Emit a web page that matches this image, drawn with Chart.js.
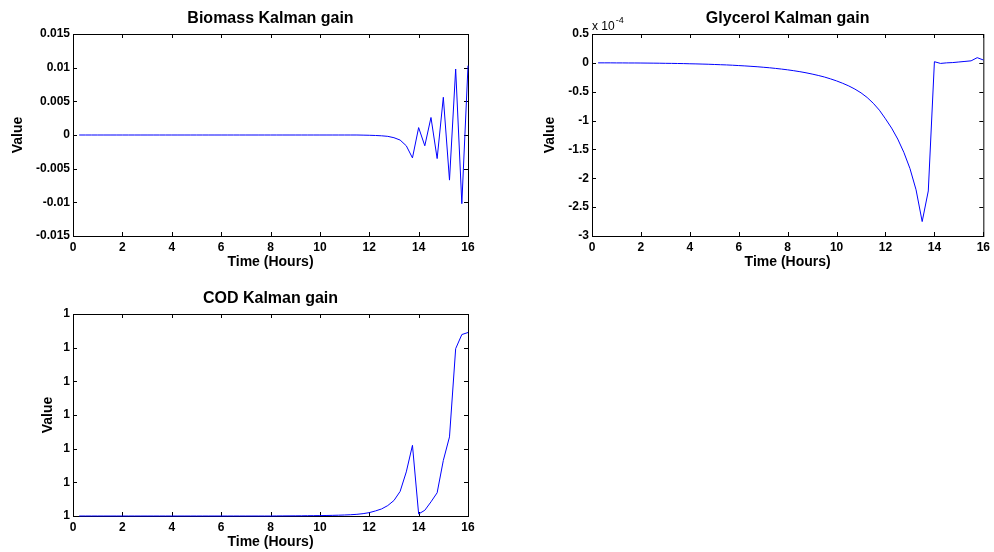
<!DOCTYPE html>
<html>
<head>
<meta charset="utf-8">
<script src="https://cdn.jsdelivr.net/npm/chart.js@4.4.1/dist/chart.umd.min.js"></script>
<style>
  html, body { margin: 0; padding: 0; background: #fff; }
  body { width: 994px; height: 552px; position: relative; overflow: hidden; }
  canvas { position: absolute; }
</style>
</head>
<body>
<canvas id="biomass" width="497" height="276" style="left:0;top:0"></canvas>
<canvas id="glycerol" width="462" height="276" style="left:532px;top:0"></canvas>
<canvas id="cod" width="497" height="276" style="left:0;top:280px"></canvas>
<script>
// time axis (hours), one sample every 15 minutes
const hours = [
  0.25, 0.5, 0.75, 1, 1.25, 1.5, 1.75, 2,
  2.25, 2.5, 2.75, 3, 3.25, 3.5, 3.75, 4,
  4.25, 4.5, 4.75, 5, 5.25, 5.5, 5.75, 6,
  6.25, 6.5, 6.75, 7, 7.25, 7.5, 7.75, 8,
  8.25, 8.5, 8.75, 9, 9.25, 9.5, 9.75, 10,
  10.25, 10.5, 10.75, 11, 11.25, 11.5, 11.75, 12,
  12.25, 12.5, 12.75, 13, 13.25, 13.5, 13.75, 14,
  14.25, 14.5, 14.75, 15, 15.25, 15.5, 15.75, 16
];
const hourTicks = [0, 2, 4, 6, 8, 10, 12, 14, 16];

const biomassGain = [
  0, 0, 0, 0, 0, 0, 0, 0,
  0, 0, 0, 0, 0, 0, 0, 0,
  0, 0, 0, 0, 0, 0, 0, 0,
  0, 0, 0, 0, 0, 0, 0, 0,
  0, 0, 0, 0, 0, 0, 0, 0,
  0, 0, 0, 0, 0, 0, -0.00002, -0.00004,
  -0.00007, -0.00012, -0.0002, -0.0004, -0.00075, -0.0016, -0.0034, 0.0011,
  -0.0016, 0.0026, -0.0035, 0.0056, -0.0067, 0.0098, -0.0102, 0.0103
];
const biomassTicks = [-0.015, -0.01, -0.005, 0, 0.005, 0.01, 0.015];
const biomassTickLabels = ['-0.015', '-0.01', '-0.005', '0', '0.005', '0.01', '0.015'];

// glycerol gain in units of 1e-4
const glycerolGainE4 = [
  0, 0, 0, -0.001, -0.001, -0.002, -0.002, -0.003,
  -0.004, -0.005, -0.006, -0.008, -0.009, -0.011, -0.013, -0.016,
  -0.018, -0.021, -0.024, -0.028, -0.032, -0.036, -0.041, -0.047,
  -0.053, -0.06, -0.067, -0.076, -0.085, -0.096, -0.108, -0.121,
  -0.136, -0.153, -0.172, -0.194, -0.218, -0.245, -0.277, -0.313,
  -0.354, -0.4, -0.455, -0.52, -0.6, -0.7, -0.82, -0.97,
  -1.13, -1.32, -1.55, -1.83, -2.2, -2.75, -2.22, 0.02,
  -0.01, 0, 0.005, 0.015, 0.025, 0.035, 0.09, 0.05
];
const glycerolTicks = [-3, -2.5, -2, -1.5, -1, -0.5, 0, 0.5];
const glycerolTickLabels = ['-3', '-2.5', '-2', '-1.5', '-1', '-0.5', '0', '0.5'];

// COD gain, relative position on an axis whose labels all round to 1
const codGain = [
  0, 0, 0, 0, 0, 0, 0, 0,
  0, 0, 0, 0, 0, 0, 0, 0,
  0, 0, 0, 0, 0, 0, 0, 0,
  0, 0, 0, 0, 0, 0, 0, 0,
  0.002, 0.003, 0.004, 0.005, 0.006, 0.008, 0.01, 0.012,
  0.015, 0.019, 0.024, 0.03, 0.038, 0.05, 0.07, 0.1,
  0.15, 0.21, 0.31, 0.46, 0.73, 1.31, 2.1, 0.06,
  0.17, 0.42, 0.69, 1.65, 2.35, 4.97, 5.39, 5.45
];
const codTicks = [0, 1, 2, 3, 4, 5, 6];
const codTickLabels = ['1', '1', '1', '1', '1', '1', '1'];

const FONT = "'Liberation Sans', Arial, sans-serif";

// matlab style box with inward ticks on all four sides
const matlabBox = {
  id: 'matlabBox',
  beforeDatasetsDraw(chart) {
    const { ctx, chartArea: a, scales: { x, y } } = chart;
    ctx.save();
    ctx.strokeStyle = '#000';
    ctx.lineWidth = 1;
    ctx.beginPath();
    x.ticks.forEach(t => {
      const px = Math.round(x.getPixelForValue(t.value)) + 0.5;
      ctx.moveTo(px, a.bottom); ctx.lineTo(px, a.bottom - 4);
      ctx.moveTo(px, a.top); ctx.lineTo(px, a.top + 4);
    });
    y.ticks.forEach(t => {
      const py = Math.round(y.getPixelForValue(t.value)) + 0.5;
      ctx.moveTo(a.left, py); ctx.lineTo(a.left + 4, py);
      ctx.moveTo(a.right, py); ctx.lineTo(a.right - 4, py);
    });
    ctx.stroke();
    ctx.strokeRect(a.left + 0.5, a.top + 0.5, a.right - a.left, a.bottom - a.top);
    ctx.restore();
  }
};

const exponentLabel = {
  id: 'exponentLabel',
  afterDraw(chart) {
    const { ctx, chartArea: a } = chart;
    ctx.save();
    ctx.fillStyle = '#000';
    ctx.textBaseline = 'alphabetic';
    ctx.font = '12px ' + FONT;
    ctx.fillText('x 10', a.left, 30);
    const w = ctx.measureText('x 10').width;
    ctx.font = '9px ' + FONT;
    ctx.fillText('-4', a.left + w + 1, 23);
    ctx.restore();
  }
};

function makeChart(id, title, values, yTicks, yLabels, yWidth, rightPad, yTitlePad, extra) {
  const ctx = document.getElementById(id).getContext('2d');
  return new Chart(ctx, {
    type: 'line',
    data: {
      datasets: [{
        data: hours.map((h, i) => ({ x: h, y: values[i] })),
        borderColor: '#0000ff',
        borderWidth: 1,
        pointRadius: 0,
        tension: 0,
        clip: false
      }]
    },
    options: {
      responsive: false,
      animation: false,
      layout: { autoPadding: false, padding: { left: 0, right: rightPad, top: 0, bottom: 0 } },
      plugins: {
        legend: { display: false },
        tooltip: { enabled: false },
        title: {
          display: true,
          text: title,
          fullSize: false,
          color: '#000',
          font: { family: FONT, size: 16, weight: 'bold', lineHeight: 1.25 },
          padding: { top: 9, bottom: 5 }
        }
      },
      scales: {
        x: {
          type: 'linear',
          min: 0,
          max: 16,
          afterBuildTicks: s => { s.ticks = hourTicks.map(v => ({ value: v })); },
          afterFit: s => { s.height = 40; },
          grid: { display: false, drawTicks: false, tickLength: 0 },
          border: { display: false },
          ticks: {
            padding: 4, color: '#000', autoSkip: false, maxRotation: 0,
            font: { family: FONT, size: 12, weight: 'bold' },
            callback: (v, i) => String(hourTicks[i])
          },
          title: {
            display: true, text: 'Time (Hours)', color: '#000',
            font: { family: FONT, size: 14, weight: 'bold', lineHeight: 1.2 },
            padding: { top: 0, bottom: 5 }
          }
        },
        y: {
          type: 'linear',
          min: yTicks[0],
          max: yTicks[yTicks.length - 1],
          afterBuildTicks: s => { s.ticks = yTicks.map(v => ({ value: v })); },
          afterFit: s => { s.width = yWidth; },
          grid: { display: false, drawTicks: false, tickLength: 0 },
          border: { display: false },
          ticks: {
            padding: 3, color: '#000', autoSkip: false,
            font: { family: FONT, size: 12, weight: 'bold' },
            callback: (v, i) => yLabels[i]
          },
          title: {
            display: true, text: 'Value', color: '#000',
            font: { family: FONT, size: 14, weight: 'bold', lineHeight: 1.2 },
            padding: { top: yTitlePad, bottom: 0 }
          }
        }
      }
    },
    plugins: [matlabBox].concat(extra || [])
  });
}

makeChart('biomass', 'Biomass Kalman gain', biomassGain, biomassTicks, biomassTickLabels, 73, 29, 10);
makeChart('glycerol', 'Glycerol Kalman gain', glycerolGainE4, glycerolTicks, glycerolTickLabels, 60, 7, 10, [exponentLabel]);
makeChart('cod', 'COD Kalman gain', codGain, codTicks, codTickLabels, 73, 29, 40);
</script>
</body>
</html>
